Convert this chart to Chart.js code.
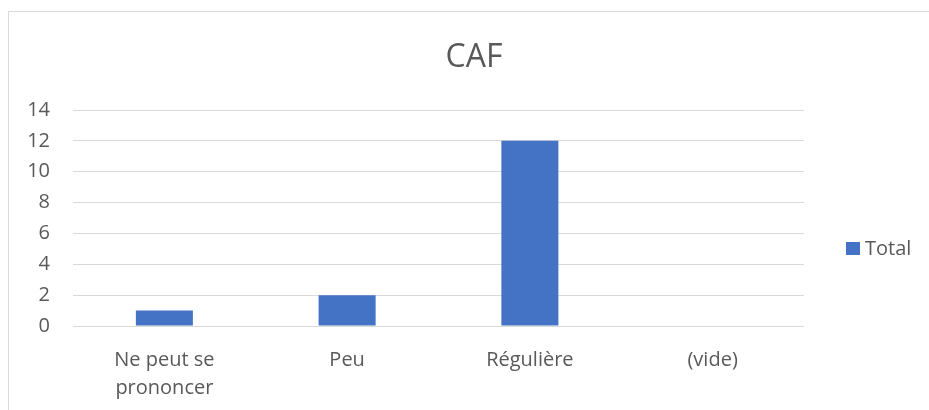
<!DOCTYPE html>
<html>
<head>
<meta charset="utf-8">
<script src="https://cdn.jsdelivr.net/npm/chart.js@4/dist/chart.umd.min.js"></script>
<style>
  html, body { margin: 0; padding: 0; background: #ffffff; }
  #wrap { position: relative; width: 929px; height: 410px; }
  canvas { display: block; }
</style>
</head>
<body>
<div id="wrap"><canvas id="c" width="929" height="410"></canvas></div>
<script>
const chartTitle = "CAF";
const categories = [["Ne peut se", "prononcer"], "Peu", "Régulière", "(vide)"];
const seriesName = "Total";
const totals = [1, 2, 12, null];
const yTicks = [0, 2, 4, 6, 8, 10, 12, 14];

const textColor = "#595959";
const gridColor = "#d9d9d9";
const barColor = "#4472c4";
const fontFamily = "'Open Sans', 'Noto Sans', sans-serif";

const frame = {
  id: "frame",
  beforeDraw(chart) {
    const ctx = chart.ctx;
    ctx.save();
    ctx.strokeStyle = gridColor;
    ctx.lineWidth = 1;
    ctx.strokeRect(8.5, 11.5, 1200, 1000);
    ctx.restore();
  },
  afterDraw(chart) {
    const ctx = chart.ctx;
    const ds = chart.data.datasets[0];
    const area = chart.chartArea;
    ctx.save();
    const bx = area.right + 42;
    const cy = 249;
    ctx.fillStyle = ds.backgroundColor;
    ctx.fillRect(bx, cy - 7, 14, 13);
    ctx.fillStyle = textColor;
    ctx.font = "20px " + fontFamily;
    ctx.textAlign = "left";
    ctx.textBaseline = "middle";
    ctx.fillText(ds.label, bx + 19, cy);
    ctx.restore();
  }
};

new Chart(document.getElementById("c"), {
  type: "bar",
  data: {
    labels: categories,
    datasets: [{
      label: seriesName,
      data: totals,
      backgroundColor: barColor,
      borderWidth: 0,
      categoryPercentage: 1,
      barPercentage: 0.312
    }]
  },
  options: {
    responsive: false,
    animation: false,
    layout: { padding: { left: 19, right: 0, top: 0, bottom: 0 } },
    plugins: {
      legend: { display: false },
      tooltip: { enabled: false },
      title: {
        display: true,
        text: chartTitle,
        color: textColor,
        font: { family: fontFamily, size: 32, weight: "normal", lineHeight: 1.2 },
        padding: { top: 39, bottom: 32.6 }
      }
    },
    scales: {
      x: {
        grid: { display: false, drawTicks: false },
        border: { display: false },
        ticks: {
          color: textColor,
          font: { family: fontFamily, size: 20, lineHeight: 1.4 },
          padding: 20,
          maxRotation: 0,
          autoSkip: false
        },
        afterFit(scale) { scale.height = 84; }
      },
      y: {
        min: 0,
        max: 14,
        afterBuildTicks(scale) { scale.ticks = yTicks.map(v => ({ value: v })); },
        grid: { color: gridColor, lineWidth: 1, drawTicks: false },
        border: { display: false },
        ticks: {
          color: textColor,
          font: { family: fontFamily, size: 20 },
          padding: 23
        },
        afterFit(scale) { scale.width = 54; }
      },
      yRightSpace: {
        position: "right",
        display: true,
        grid: { display: false, drawTicks: false },
        border: { display: false },
        ticks: { display: false },
        afterFit(scale) { scale.width = 125; }
      }
    }
  },
  plugins: [frame]
});
</script>
</body>
</html>
